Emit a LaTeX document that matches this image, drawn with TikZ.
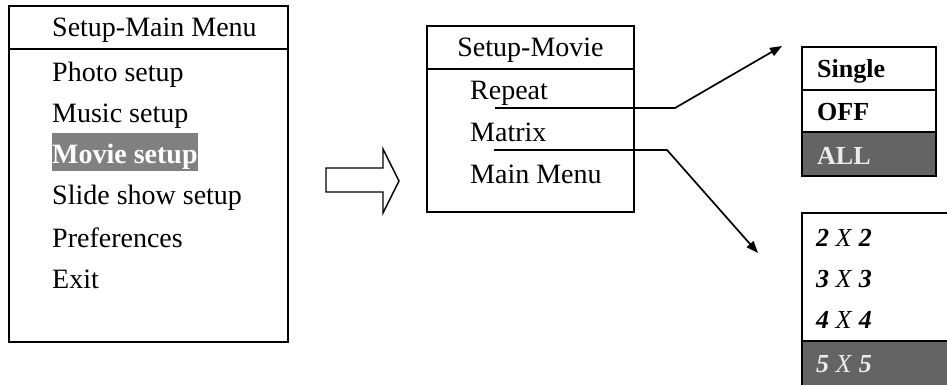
\documentclass[tikz,border=0pt]{standalone}
\usepackage{fontspec}
\setmainfont{Liberation Serif}
\usetikzlibrary{arrows.meta}
\definecolor{hlgray}{HTML}{808080}
\definecolor{dkgray}{HTML}{646464}
\tikzset{
  frame/.style={draw=black, line width=1.9pt},
  item/.style={anchor=base west, inner sep=0pt, font=\fontsize{28}{34}\selectfont},
  opt/.style={anchor=base west, inner sep=0pt, font=\fontsize{26}{31}\selectfont},
  link/.style={draw=black, line width=1.7pt, -{Triangle[length=12pt,width=9pt]}},
}
\begin{document}
\begin{tikzpicture}[x=1pt,y=-1pt]
\useasboundingbox (0,0) rectangle (947,385);
\clip (0,0) rectangle (947,385);
% Left menu
\draw[frame] (9,6) rectangle (288,342);
\draw[frame] (9,49) -- (288,49);
\node[item] (mainhead) at (52,37) {Setup-Main Menu};
\node[item] (photo) at (52,82) {Photo setup};
\node[item] (music) at (52,122) {Music setup};
\node[item, fill=hlgray, text=white, text height=30pt, text depth=8pt] (movie) at (52,163) {\textbf{Movie setup}};
\node[item] (slide) at (52,204) {Slide show setup};
\node[item] (pref) at (52,247) {Preferences};
\node[item] (exit) at (52,288) {Exit};
% Block arrow
\draw[line width=1.4pt] (326,168) -- (383,168) -- (383,149) -- (399,181) -- (383,213) -- (383,192) -- (326,192) -- cycle;
% Middle menu
\draw[frame] (427,26) rectangle (634,212);
\draw[frame] (427,69) -- (634,69);
\node[item, anchor=base] (moviehead) at (530.5,57) {Setup-Movie};
\node[item] (repeat) at (470,100) {Repeat};
\node[item] (matrix) at (470,142) {Matrix};
\node[item] (mainmenu) at (470,183) {Main Menu};
% Top right options
\fill[dkgray] (802,132) rectangle (936,176);
\draw[frame, line width=2pt] (802,47) rectangle (936,176);
\draw[frame, line width=2pt] (802,90) -- (936,90);
\draw[frame, line width=2pt] (802,132) -- (936,132);
\node[opt] (single) at (817,78) {\textbf{Single}};
\node[opt] (off) at (817,121) {\textbf{OFF}};
\node[opt, text=white!92!black] (all) at (817,164) {\textbf{ALL}};
% Bottom right options
\fill[dkgray] (802,341) rectangle (960,400);
\draw[frame, line width=2pt] (802,400) -- (802,213) -- (960,213);
\draw[frame, line width=2pt] (802,341) -- (960,341);
\node[opt] (m2) at (816,246) {\textbf{\textit{2}} \textit{X} \textbf{\textit{2}}};
\node[opt] (m3) at (816,287) {\textbf{\textit{3}} \textit{X} \textbf{\textit{3}}};
\node[opt] (m4) at (816,328) {\textbf{\textit{4}} \textit{X} \textbf{\textit{4}}};
\node[opt, text=white!92!black] (m5) at (816,372) {\textbf{\textit{5}} \textit{X} \textbf{\textit{5}}};
% Connectors
\coordinate (r0) at (495,108);
\coordinate (r1) at (675,108);
\coordinate (r2) at (782,46);
\coordinate (x0) at (494,150);
\coordinate (x1) at (667,150);
\coordinate (x2) at (758,253);
\draw[link] (r0) -- (r1) -- (r2);
\draw[link] (x0) -- (x1) -- (x2);
\end{tikzpicture}
\end{document}
